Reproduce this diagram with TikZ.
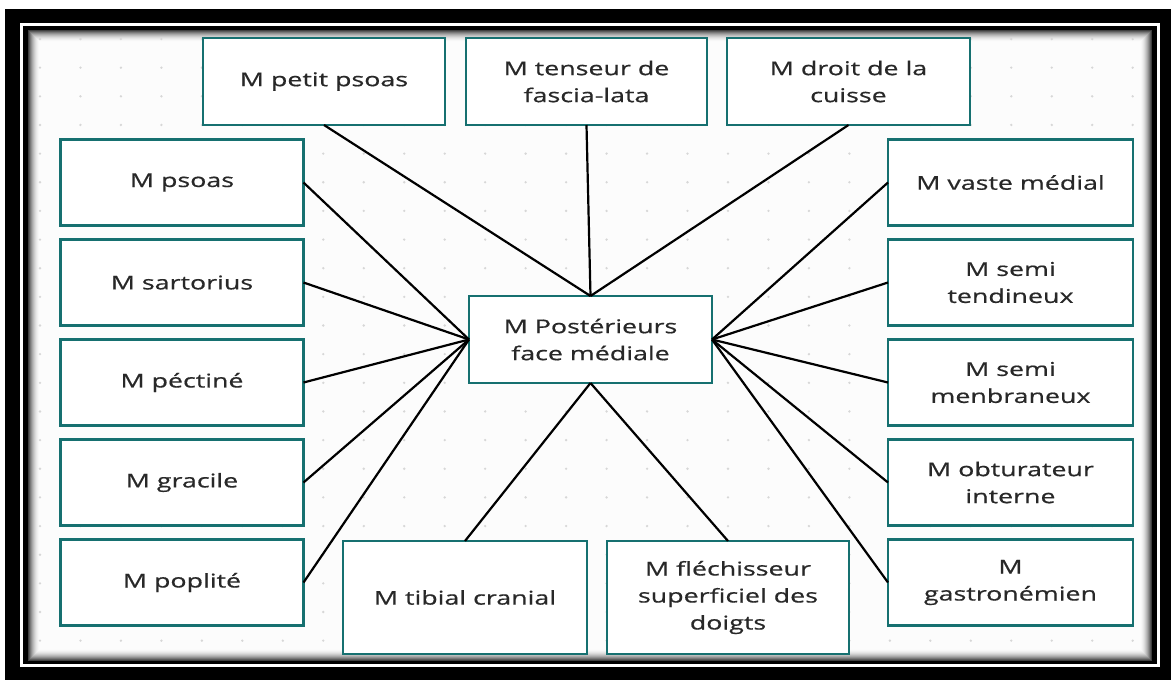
\documentclass[tikz,border=0pt]{standalone}
\usepackage{fontspec}
\setmainfont{Open Sans}[FakeStretch=1.41, FakeBold=0.6]
\definecolor{boxteal}{RGB}{22,112,112}
\definecolor{txtgray}{RGB}{40,40,40}
\definecolor{bgpaper}{RGB}{252,252,252}
\definecolor{dotgray}{RGB}{215,215,215}
\tikzset{
  musc/.style={draw=boxteal, line width=2.8pt, fill=white, text=txtgray, align=center,
    font=\fontsize{19}{27}\selectfont, inner sep=4pt, outer sep=0pt},
  link/.style={draw=black, line width=2.2pt}
}
\begin{document}
\begin{tikzpicture}[x=1pt,y=-1pt]
\useasboundingbox (0,0) rectangle (1171,680);
\fill[white] (0,0) rectangle (1171,680);
% frame
\fill[black] (5,9) rectangle (1171,680);
\fill[white] (20,23) rectangle (1160,667);
\fill[black] (23,26) rectangle (1157,664);
\fill[bgpaper] (28,30) rectangle (1152,661);
\foreach \i in {0,...,11} {
  \pgfmathsetmacro{\op}{0.75*(1-\i/12)^2}
  \draw[black, opacity=\op, line width=1pt] (28.5+\i,30.5+\i) rectangle (1151.5-\i,660.5-\i);
}
% dots
\foreach \c in {0,...,27} {
  \foreach \r in {0,...,21} {
    \fill[dotgray] (40+40.47*\c, 39+28.65*\r) circle (1.3);
  }
}
% boxes
\node[musc, minimum width=242pt, minimum height=87pt] (petit) at (324,81.5) {M petit psoas};
\node[musc, minimum width=241pt, minimum height=87pt] (tenseur) at (586.5,81.5) {M tenseur de\\fascia-lata};
\node[musc, minimum width=243pt, minimum height=87pt] (droit) at (848.5,81.5) {M droit de la\\cuisse};

\node[musc, minimum width=243pt, minimum height=86pt] (psoas) at (182,182.5) {M psoas};
\node[musc, minimum width=243pt, minimum height=86pt] (sartorius) at (182,282.5) {M sartorius};
\node[musc, minimum width=243pt, minimum height=86pt] (pectine) at (182,382.5) {M péctiné};
\node[musc, minimum width=243pt, minimum height=86pt] (gracile) at (182,482.5) {M gracile};
\node[musc, minimum width=243pt, minimum height=86pt] (poplite) at (182,582.5) {M poplité};

\node[musc, minimum width=245pt, minimum height=86pt] (vaste) at (1010.5,182.5) {M vaste médial};
\node[musc, minimum width=245pt, minimum height=86pt] (semit) at (1010.5,282.5) {M semi\\tendineux};
\node[musc, minimum width=245pt, minimum height=86pt] (semim) at (1010.5,382.5) {M semi\\menbraneux};
\node[musc, minimum width=245pt, minimum height=86pt] (obtur) at (1010.5,482.5) {M obturateur\\interne};
\node[musc, minimum width=245pt, minimum height=86pt] (gastro) at (1010.5,582.5) {M\\gastronémien};

\node[musc, minimum width=243pt, minimum height=87pt] (center) at (590.5,339.5) {M Postérieurs\\face médiale};

\node[musc, minimum width=244pt, minimum height=113pt] (tibial) at (465,597.5) {M tibial cranial};
\node[musc, minimum width=242pt, minimum height=113pt] (flech) at (728,597.5) {M fléchisseur\\superficiel des\\doigts};

% connectors
\foreach \n in {petit,tenseur,droit} \draw[link] (\n.south) -- (center.north);
\foreach \n in {psoas,sartorius,pectine,gracile,poplite} \draw[link] (\n.east) -- (center.west);
\foreach \n in {vaste,semit,semim,obtur,gastro} \draw[link] (\n.west) -- (center.east);
\foreach \n in {tibial,flech} \draw[link] (\n.north) -- (center.south);
\end{tikzpicture}
\end{document}
